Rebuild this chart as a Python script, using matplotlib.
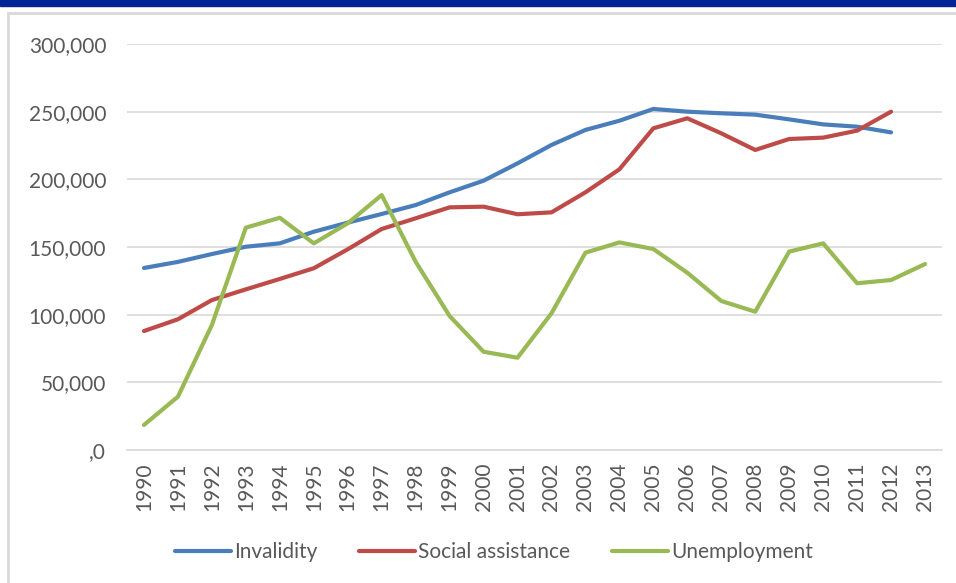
import matplotlib.pyplot as plt
from matplotlib.patches import Rectangle
from matplotlib.ticker import FuncFormatter

plt.rcParams['font.family'] = ['Lato', 'DejaVu Sans']

years = [str(y) for y in range(1990, 2014)]

invalidity = [134500, 139000, 144800, 150200, 152700, 161300, 168000, 174400,
              181000, 190400, 199000, 211800, 225400, 236500, 243300, 252000,
              250000, 248800, 247800, 244300, 240600, 238900, 234700]

social_assistance = [87900, 96600, 110800, 118700, 126400, 134300, 148300, 163300,
                     171200, 179300, 179800, 174200, 175600, 190400, 207400, 237700,
                     245100, 234000, 221700, 229800, 230800, 236000, 250000]

unemployment = [18500, 39400, 92400, 164300, 171600, 152700, 167500, 188400,
                139100, 99000, 72600, 68200, 101000, 145800, 153400, 148500,
                131000, 110100, 102200, 146600, 152700, 123200, 125600, 137400]

labels = ["Invalidity", "Social assistance", "Unemployment"]
colors = ["#4a7ebb", "#be4b48", "#98b954"]
text_grey = "#595959"

fig = plt.figure(figsize=(9.56, 5.83), dpi=100)

# blue header strip and light frame around the chart
fig.patches.append(Rectangle((0, 1 - 6 / 583), 1, 6 / 583, transform=fig.transFigure,
                             color="#002395", zorder=-2))
fig.patches.append(Rectangle((8 / 956, -0.05), 1.0, 1 - 13 / 583 + 0.05,
                             transform=fig.transFigure, facecolor="white",
                             edgecolor="#d9d9d9", linewidth=2, zorder=-2))

ax = fig.add_axes([127 / 956, (583 - 450) / 583, (942 - 127) / 956, (450 - 44) / 583])
ax.set_facecolor("none")

x = range(len(years))
ax.plot(x[:len(invalidity)], invalidity, color=colors[0], lw=3, label=labels[0],
        solid_capstyle="round", solid_joinstyle="round")
ax.plot(x[:len(social_assistance)], social_assistance, color=colors[1], lw=3,
        label=labels[1], solid_capstyle="round", solid_joinstyle="round")
ax.plot(x, unemployment, color=colors[2], lw=3, label=labels[2],
        solid_capstyle="round", solid_joinstyle="round")

ax.set_xlim(-0.5, len(years) - 0.5)
ax.set_ylim(0, 300000)
ax.set_yticks(range(0, 300001, 50000))
ax.yaxis.set_major_formatter(FuncFormatter(lambda v, p: f"{v:,.0f}" if v else ",0"))
ax.set_xticks(list(x))
ax.set_xticklabels(years, rotation=90)

ax.grid(axis="y", color="#d9d9d9", lw=1.2)
ax.set_axisbelow(True)
for s in ["top", "right", "left"]:
    ax.spines[s].set_visible(False)
ax.spines["bottom"].set_color("#d9d9d9")
ax.spines["bottom"].set_linewidth(1.2)
ax.tick_params(axis="both", length=0, colors=text_grey, labelsize=15)
ax.tick_params(axis="y", pad=15)
ax.tick_params(axis="x", pad=9)

fig.legend(loc="center", bbox_to_anchor=(494 / 956, 1 - 552 / 583), ncol=3,
           frameon=False, fontsize=15, labelcolor=text_grey, handlelength=2.7,
           handletextpad=0.15, columnspacing=2.0)

fig.savefig("out.png", dpi=100)
